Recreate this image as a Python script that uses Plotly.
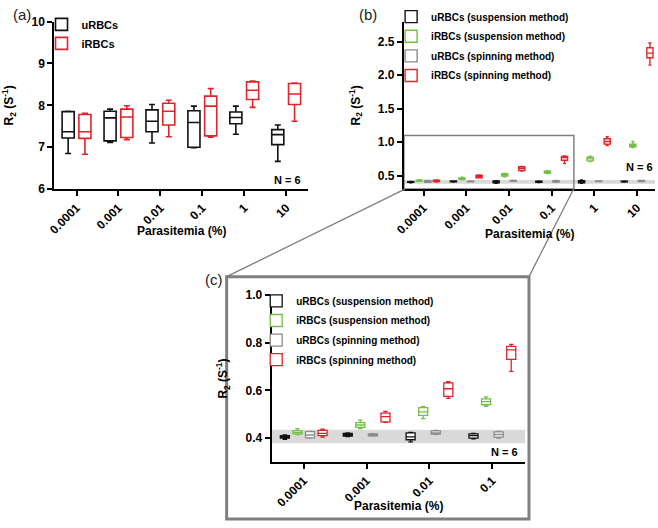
import plotly.graph_objects as go

W, H = 658, 528

# ---------------- data ----------------
cats_a = ["0.0001", "0.001", "0.01", "0.1", "1", "10"]
series_a = ["uRBCs", "iRBCs"]
# stats per category: min, q1, median, q3, max
urbc_a_min = [6.85, 7.11, 7.10, 6.99, 7.31, 6.66]
urbc_a_q1 = [7.22, 7.15, 7.37, 7.00, 7.56, 7.06]
urbc_a_med = [7.37, 7.70, 7.62, 7.59, 7.71, 7.30]
urbc_a_q3 = [7.85, 7.86, 7.89, 7.87, 7.84, 7.42]
urbc_a_max = [7.86, 7.91, 8.02, 7.98, 7.98, 7.53]

irbc_a_min = [6.83, 7.18, 7.25, 7.24, 7.95, 7.62]
irbc_a_q1 = [7.21, 7.23, 7.53, 7.27, 8.14, 8.02]
irbc_a_med = [7.37, 7.72, 7.86, 7.98, 8.36, 8.27]
irbc_a_q3 = [7.78, 7.91, 8.05, 8.22, 8.56, 8.52]
irbc_a_max = [7.81, 7.99, 8.12, 8.40, 8.58, 8.53]

cats_b = ["0.0001", "0.001", "0.01", "0.1", "1", "10"]
series_b = ["uRBCs (suspension method)", "iRBCs (suspension method)",
            "uRBCs (spinning method)", "iRBCs (spinning method)"]

u_susp_min = [0.395, 0.406, 0.384, 0.397, 0.385, 0.405]
u_susp_q1 = [0.400, 0.408, 0.393, 0.400, 0.395, 0.408]
u_susp_med = [0.405, 0.414, 0.405, 0.410, 0.410, 0.412]
u_susp_q3 = [0.410, 0.420, 0.422, 0.418, 0.425, 0.416]
u_susp_max = [0.413, 0.422, 0.424, 0.420, 0.435, 0.420]

i_susp_min = [0.415, 0.440, 0.482, 0.533, 0.710, 0.920]
i_susp_q1 = [0.418, 0.445, 0.495, 0.540, 0.720, 0.930]
i_susp_med = [0.424, 0.455, 0.510, 0.553, 0.750, 0.950]
i_susp_q3 = [0.431, 0.465, 0.528, 0.565, 0.775, 0.970]
i_susp_max = [0.440, 0.475, 0.532, 0.573, 0.790, 1.010]

u_spin_min = [0.400, 0.408, 0.416, 0.400, 0.410, 0.410]
u_spin_q1 = [0.401, 0.409, 0.417, 0.404, 0.412, 0.412]
u_spin_med = [0.413, 0.413, 0.422, 0.415, 0.416, 0.420]
u_spin_q3 = [0.427, 0.418, 0.430, 0.426, 0.420, 0.428]
u_spin_max = [0.428, 0.419, 0.432, 0.428, 0.422, 0.430]

i_spin_min = [0.404, 0.466, 0.567, 0.680, 0.950, 2.150]
i_spin_q1 = [0.410, 0.468, 0.575, 0.730, 0.970, 2.260]
i_spin_med = [0.420, 0.490, 0.607, 0.770, 1.010, 2.330]
i_spin_q3 = [0.432, 0.505, 0.632, 0.785, 1.050, 2.410]
i_spin_max = [0.437, 0.512, 0.637, 0.793, 1.080, 2.480]

n_zoom = 4  # panel (c) shows the first four parasitemia levels
band_low, band_high = 0.378, 0.435
zoom_box_top = 1.1
n_label = "N = 6"
x_title = "Parasitemia (%)"
y_title = "R<sub>2</sub> (S<sup>-1</sup>)"

# ---------------- styles ----------------
FONT = "Liberation Sans, Arial, sans-serif"
BLACK = "#111111"
RED = "#e3232a"
GREEN = "#74bf45"
GRAY = "#8c8c8c"
FRAME = "#7f7f7f"

def px(x):
    return x / W

def py(y):
    return (H - y) / H

fig = go.Figure()

def add_box(name, cats, mn, q1, med, q3, mx, color, xa, ya, align, off, legend, lw, group=None):
    fig.add_trace(go.Box(
        name=name, x=cats, lowerfence=mn, q1=q1, median=med, q3=q3, upperfence=mx,
        boxpoints=False, line=dict(color=color, width=lw), fillcolor="white",
        whiskerwidth=0.5, xaxis=xa, yaxis=ya, alignmentgroup=align, offsetgroup=off,
        legend=legend, legendgroup=group, hoverinfo="skip",
    ))

# panel (a)
add_box(series_a[0], cats_a, urbc_a_min, urbc_a_q1, urbc_a_med, urbc_a_q3, urbc_a_max,
        BLACK, "x", "y", "a", "a1", "legend", 1.6)
add_box(series_a[1], cats_a, irbc_a_min, irbc_a_q1, irbc_a_med, irbc_a_q3, irbc_a_max,
        RED, "x", "y", "a", "a2", "legend", 1.6)

sets_b = [
    (series_b[0], u_susp_min, u_susp_q1, u_susp_med, u_susp_q3, u_susp_max, BLACK),
    (series_b[1], i_susp_min, i_susp_q1, i_susp_med, i_susp_q3, i_susp_max, GREEN),
    (series_b[2], u_spin_min, u_spin_q1, u_spin_med, u_spin_q3, u_spin_max, GRAY),
    (series_b[3], i_spin_min, i_spin_q1, i_spin_med, i_spin_q3, i_spin_max, RED),
]
# panel (b)
for k, (nm, mn, q1, md, q3, mx, col) in enumerate(sets_b):
    add_box(nm, cats_b, mn, q1, md, q3, mx, col, "x2", "y2", "b", f"b{k}", "legend2", 1.4, f"gb{k}")
# panel (c)
for k, (nm, mn, q1, md, q3, mx, col) in enumerate(sets_b):
    add_box(nm, cats_b[:n_zoom], mn[:n_zoom], q1[:n_zoom], md[:n_zoom], q3[:n_zoom],
            mx[:n_zoom], col, "x3", "y3", "c", f"c{k}", "legend3", 1.3, f"gc{k}")

# ---------------- axes ----------------
dom_a_x = [px(45), px(303)]
dom_b_x = [px(400), px(655)]
dom_c_x = [px(265.7), px(523)]
dom_ab_y = [py(187), py(15)]
dom_c_y = [py(467.3), py(296)]

ax_common = dict(showline=True, linecolor="black", linewidth=2, ticks="outside",
                 ticklen=5, tickwidth=1.5, tickcolor="black", showgrid=False,
                 zeroline=False, tickfont=dict(size=12, family=FONT, color="black", weight="bold"))
ytitle = dict(text=y_title, font=dict(size=12, family=FONT, color="black", weight="bold"))

r_a = [-0.53, 5.53]
r_b = [-0.46, 5.42]
r_c = [-0.51, 3.52]

fig.update_layout(
    xaxis=dict(domain=dom_a_x, anchor="y", type="category", range=r_a, tickangle=-45, **ax_common),
    yaxis=dict(domain=dom_ab_y, anchor="x", range=[6, 10], tickvals=[6, 7, 8, 9, 10],
               title=ytitle, **ax_common),
    xaxis2=dict(domain=dom_b_x, anchor="y2", type="category", range=r_b, tickangle=-45, **ax_common),
    yaxis2=dict(domain=dom_ab_y, anchor="x2", range=[0.3, 2.8],
                tickvals=[0.5, 1.0, 1.5, 2.0, 2.5], tickformat=".1f", title=ytitle, **ax_common),
    xaxis3=dict(domain=dom_c_x, anchor="y3", type="category", range=r_c, tickangle=-45, **ax_common),
    yaxis3=dict(domain=dom_c_y, anchor="x3", range=[0.3, 1.0],
                tickvals=[0.4, 0.6, 0.8, 1.0], tickformat=".1f", title=ytitle, **ax_common),
)

leg_font = dict(family=FONT, size=10, color="black", weight="bold")
fig.update_layout(
    boxmode="group", boxgap=0.2, boxgroupgap=0.28,
    width=W, height=H, margin=dict(l=0, r=0, t=0, b=0),
    paper_bgcolor="white", plot_bgcolor="rgba(0,0,0,0)",
    font=dict(family=FONT, color="black"),
    legend=dict(x=px(32), y=py(3), xanchor="left", yanchor="top", bgcolor="rgba(0,0,0,0)",
                font=dict(family=FONT, size=11, color="black", weight="bold")),
    legend2=dict(x=px(387), y=py(-5), xanchor="left", yanchor="top", bgcolor="rgba(0,0,0,0)",
                 font=leg_font, tracegroupgap=0.6),
    legend3=dict(x=px(250), y=py(287), xanchor="left", yanchor="top", bgcolor="rgba(0,0,0,0)",
                 font=leg_font, tracegroupgap=0.6),
)

# ---------------- shapes ----------------
fig.add_shape(type="rect", xref="x2 domain", x0=0, x1=1, yref="y2", y0=band_low, y1=band_high,
              fillcolor="#d9d9d9", line=dict(width=0), layer="below")
fig.add_shape(type="rect", xref="x3 domain", x0=0, x1=1, yref="y3", y0=band_low, y1=band_high,
              fillcolor="#d9d9d9", line=dict(width=0), layer="below")
fig.add_shape(type="rect", xref="x2", yref="y2", x0=r_b[0], x1=r_c[1], y0=0.3, y1=zoom_box_top,
              line=dict(color=FRAME, width=1.5), fillcolor="rgba(0,0,0,0)")
fig.add_shape(type="rect", xref="paper", yref="paper", x0=px(220), x1=px(527), y0=py(526), y1=py(277),
              line=dict(color=FRAME, width=3), fillcolor="rgba(0,0,0,0)", layer="below")
fig.add_shape(type="line", xref="paper", yref="paper", x0=px(401), y0=py(187), x1=px(220), y1=py(277),
              line=dict(color=FRAME, width=1.3))
fig.add_shape(type="line", xref="paper", yref="paper", x0=px(572.3), y0=py(187), x1=px(527), y1=py(277),
              line=dict(color=FRAME, width=1.3))

# ---------------- annotations ----------------
for txt, x, y in [("(a)", 12, 8), ("(b)", 364, 8), ("(c)", 207, 280)]:
    fig.add_annotation(text=txt, x=px(x), y=py(y), xref="paper", yref="paper", showarrow=False,
                       xanchor="center", yanchor="middle",
                       font=dict(family=FONT, size=15, color="#222222"))
for x, y in [(298, 178), (655, 164), (518, 457)]:
    fig.add_annotation(text=n_label, x=px(x), y=py(y), xref="paper", yref="paper", showarrow=False,
                       xanchor="right", yanchor="middle",
                       font=dict(family=FONT, size=11, color="black", weight="bold"))
for x, y in [(174, 230), (527.5, 233), (394.4, 513)]:
    fig.add_annotation(text=x_title, x=px(x), y=py(y), xref="paper", yref="paper", showarrow=False,
                       xanchor="center", yanchor="middle",
                       font=dict(family=FONT, size=12, color="black", weight="bold"))

fig.write_html("out.html", config={"displayModeBar": False},
               post_script="document.body.style.margin='0';document.body.style.overflow='hidden';")
